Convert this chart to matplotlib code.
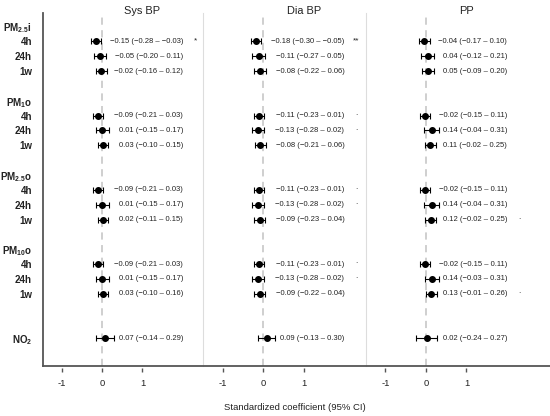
import matplotlib
matplotlib.use("Agg")
import matplotlib.pyplot as plt
from matplotlib import transforms
from matplotlib.lines import Line2D

plt.rcParams['font.family'] = ['Liberation Sans', 'DejaVu Sans']
plt.rcParams['mathtext.fontset'] = 'custom'
plt.rcParams['mathtext.rm'] = 'Liberation Sans'
plt.rcParams['mathtext.it'] = 'Liberation Sans'
plt.rcParams['mathtext.bf'] = 'Liberation Sans:bold'

# rows: exposure groups and lags
groups = [r'$\mathbf{PM_{2.5}i}$', r'$\mathbf{PM_{1}o}$', r'$\mathbf{PM_{2.5}o}$', r'$\mathbf{PM_{10}o}$']
lags = ['4h', '24h', '1w']
no2_label = r'$\mathbf{NO_{2}}$'

outcomes = ['Sys BP', 'Dia BP', 'PP']

# order: PM2.5i 4h,24h,1w | PM1o ... | PM2.5o ... | PM10o ... | NO2
sys_est = [-0.15, -0.05, -0.02, -0.09, 0.01, 0.03, -0.09, 0.01, 0.02, -0.09, 0.01, 0.03, 0.07]
sys_lo = [-0.28, -0.20, -0.16, -0.21, -0.15, -0.10, -0.21, -0.15, -0.11, -0.21, -0.15, -0.10, -0.14]
sys_hi = [-0.03, 0.11, 0.12, 0.03, 0.17, 0.15, 0.03, 0.17, 0.15, 0.03, 0.17, 0.16, 0.29]
sys_sig = ['*', '', '', '', '', '', '', '', '', '', '', '', '']

dia_est = [-0.18, -0.11, -0.08, -0.11, -0.13, -0.08, -0.11, -0.13, -0.09, -0.11, -0.13, -0.09, 0.09]
dia_lo = [-0.30, -0.27, -0.22, -0.23, -0.28, -0.21, -0.23, -0.28, -0.23, -0.23, -0.28, -0.22, -0.13]
dia_hi = [-0.05, 0.05, 0.06, 0.01, 0.02, 0.06, 0.01, 0.02, 0.04, 0.01, 0.02, 0.04, 0.30]
dia_sig = ['**', '', '', '.', '.', '', '.', '.', '', '.', '.', '', '']

pp_est = [-0.04, 0.04, 0.05, -0.02, 0.14, 0.11, -0.02, 0.14, 0.12, -0.02, 0.14, 0.13, 0.02]
pp_lo = [-0.17, -0.12, -0.09, -0.15, -0.04, -0.02, -0.15, -0.04, -0.02, -0.15, -0.03, -0.01, -0.24]
pp_hi = [0.10, 0.21, 0.20, 0.11, 0.31, 0.25, 0.11, 0.31, 0.25, 0.11, 0.31, 0.26, 0.27]
pp_sig = ['', '', '', '', '', '', '', '', '.', '', '', '.', '']

series = [(sys_est, sys_lo, sys_hi, sys_sig),
          (dia_est, dia_lo, dia_hi, dia_sig),
          (pp_est, pp_lo, pp_hi, pp_sig)]

# y positions (rows, top to bottom)
data_rows = []
label_rows = []
r = -1
for g in groups:
    label_rows.append(r)
    data_rows += [r + 1, r + 2, r + 3]
    r += 5
data_rows.append(20)

def fmt(v):
    return ('%.2f' % v).replace('-', '\u2212')

fig = plt.figure(figsize=(5.5, 4.16), dpi=100)
W, H = 550.0, 416.0
bottom = 1 - 365.7 / H
top = 1 - 12.5 / H
panels = [(43, 160, (-1.457, 2.494)), (203, 163, (-1.489, 2.536)), (366, 184, (-1.481, 3.062))]

axes = []
for i, (x0, w, xl) in enumerate(panels):
    ax = fig.add_axes([x0 / W, bottom, w / W, top - bottom])
    axes.append(ax)
    est, lo, hi, sig = series[i]
    ax.axvline(0, color='#cccccc', ls=(0, (4, 3)), lw=1.3, zorder=1)
    xerr = [[e - l for e, l in zip(est, lo)], [h - e for e, h in zip(est, hi)]]
    ax.errorbar(est, data_rows, xerr=xerr, fmt='o', color='black', ms=4.0,
                elinewidth=0.8, capsize=2.4, capthick=0.8, zorder=3)
    for e, l, h, s, y in zip(est, lo, hi, sig, data_rows):
        ax.text(2.0, y, '%s (%s \u2013 %s)' % (fmt(e), fmt(l), fmt(h)),
                ha='right', va='center', fontsize=5.5, color='#222222')
        if s == '.':
            ax.text(2.3, y - 0.15, s, ha='center', va='center', fontsize=6, color='#222222')
        elif s:
            ax.text(2.3, y - 0.05, s, ha='center', va='center', fontsize=6, color='#222222')
    ax.set_xlim(*xl)
    ax.set_ylim(21.84, -1.94)
    ax.set_xticks([-1, 0, 1])
    ax.set_xticklabels(['-1', '0', '1'])
    ax.tick_params(axis='x', length=3, width=1, color='#555555', pad=5,
                   labelsize=6.8, labelcolor='#222222')
    ax.spines['bottom'].set_position(('outward', 1.8))
    ax.spines['bottom'].set_visible(False)
    ax.spines['top'].set_visible(False)
    ax.spines['right'].set_visible(False)
    if i == 0:
        ax.spines['left'].set_color('#555555')
        ax.spines['left'].set_linewidth(1.3)
        ax.set_yticks(label_rows + data_rows)
        ax.set_yticklabels(groups + lags * 4 + [no2_label], fontweight='bold')
        ax.tick_params(axis='y', length=0, pad=8, labelsize=7, labelcolor='#222222')
    else:
        ax.spines['left'].set_color('#dddddd')
        ax.spines['left'].set_linewidth(0.8)
        ax.set_yticks([])
    ax.patch.set_visible(False)
    tr = transforms.blended_transform_factory(ax.transData, fig.transFigure)
    ax.text(1.0, 1 - 11 / H, outcomes[i], transform=tr, ha='center', va='center',
            fontsize=7.9, color='#222222')

fig.add_artist(Line2D([43 / W, 1.0], [bottom, bottom], color='#555555', lw=1.3))
fig.text(295 / W, 1 - 407.7 / H, 'Standardized coefficient (95% CI)',
         ha='center', va='center', fontsize=6.8, color='#222222')

fig.savefig('out.png', dpi=100)
